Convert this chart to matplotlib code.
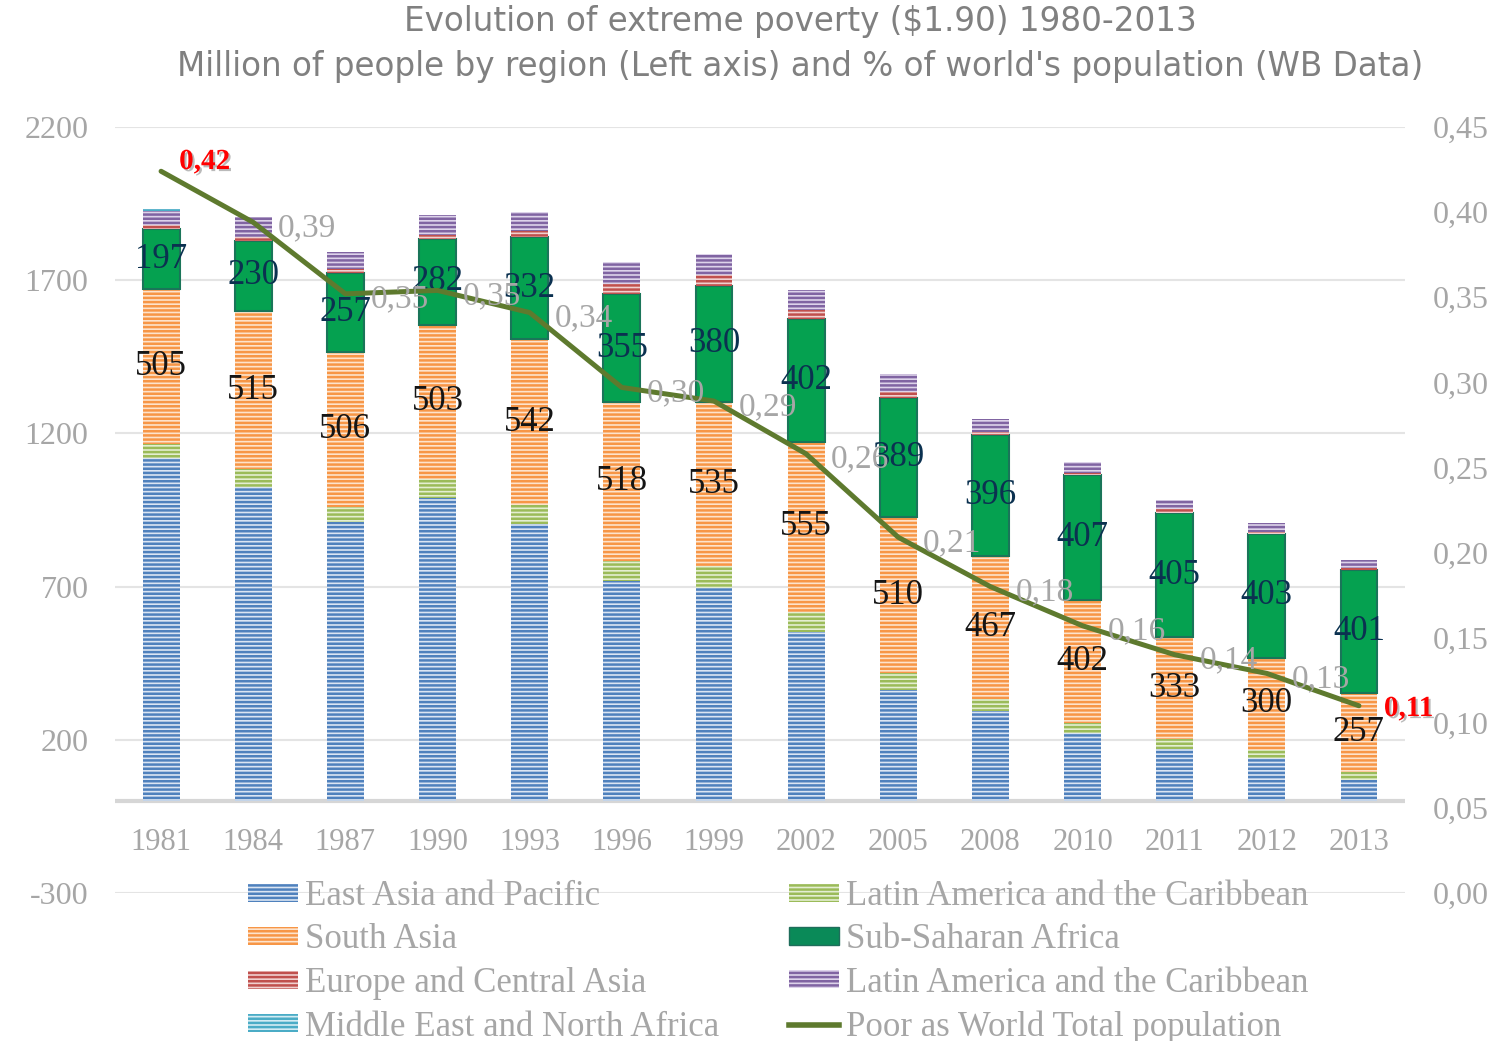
import numpy as np
import matplotlib.pyplot as plt
from matplotlib.patches import Patch
from matplotlib.lines import Line2D
import matplotlib.patheffects as pe

years = ['1981', '1984', '1987', '1990', '1993', '1996', '1999',
         '2002', '2005', '2008', '2010', '2011', '2012', '2013']

# million people
east_asia = [1119, 1024, 910, 990, 904, 718, 696, 553, 362, 294, 221, 170, 141, 68]
latin_america = [46, 60, 51, 61, 62, 65, 71, 65, 55, 38, 33, 32, 27, 28]
south_asia = [505, 515, 506, 503, 542, 518, 535, 555, 510, 467, 402, 333, 300, 257]
sub_saharan = [197, 230, 257, 282, 332, 355, 380, 402, 389, 396, 407, 405, 403, 401]
europe_ca = [13, 13, 14, 13, 22, 33, 35, 29, 20, 11, 9, 13, 8, 6]
other_purple = [46, 63, 53, 63, 62, 70, 70, 63, 57, 41, 35, 30, 28, 27]
mena = [7, 0, 0, 0, 0, 0, 0, 0, 0, 0, 0, 0, 0, 0]

# poor as share of world population
poor_share = [0.424, 0.394, 0.352, 0.354, 0.341, 0.297, 0.289,
              0.258, 0.209, 0.180, 0.157, 0.140, 0.129, 0.110]

left_ticks = [-300, 200, 700, 1200, 1700, 2200]
right_ticks = [0.00, 0.05, 0.10, 0.15, 0.20, 0.25, 0.30, 0.35, 0.40, 0.45]

serif = 'Liberation Serif'
gray = '#a6a6a6'
plt.rcParams['hatch.linewidth'] = 1.8

fig = plt.figure(figsize=(15.04, 10.41), dpi=100)
ax = fig.add_axes([115 / 1504, 1 - 893 / 1041, 1290 / 1504, 766 / 1041])

x = np.arange(len(years))
w = 0.4

# (values, stripe colour, light colour, hatch)
stack = [
    (east_asia, '#4f81bd', '#dbe5f3', '----'),
    (latin_america, '#9bbb59', '#e4eed2', '----'),
    (south_asia, '#f79646', '#fde3cc', '----'),
    (sub_saharan, None, None, None),
    (europe_ca, '#c0504d', '#f0d0cf', '----'),
    (other_purple, '#8064a2', '#ddd3ea', '----'),
    (mena, '#4bacc6', '#d3ecf3', '----'),
]

bottom = np.zeros(len(years))
for vals, col, light, hatch in stack:
    vals = np.array(vals, dtype=float)
    if col is None:
        ax.bar(x, vals, w, bottom=bottom, color='#05a150', edgecolor='#1a7559',
               linewidth=1.5, zorder=2)
    else:
        ax.bar(x, vals, w, bottom=bottom, color=light, edgecolor=col,
               hatch=hatch, linewidth=0, zorder=2)
    bottom += vals

# data labels
sa_mid = np.array(east_asia) + np.array(latin_america) + np.array(south_asia) / 2
ssa_mid = (np.array(east_asia) + np.array(latin_america) + np.array(south_asia)
           + np.array(sub_saharan) / 2)
for i in range(len(years)):
    ax.text(x[i], sa_mid[i], str(south_asia[i]), ha='center', va='center',
            fontsize=25, family=serif, color='#151515', zorder=5)
    ax.text(x[i], ssa_mid[i], str(sub_saharan[i]), ha='center', va='center',
            fontsize=25, family=serif, color='#0b3150', zorder=5)

ax.set_ylim(-300, 2200)
ax.set_xlim(-0.5, len(years) - 0.5)
ax.set_yticks(left_ticks)
ax.set_yticklabels([str(t) for t in left_ticks])
ax.yaxis.grid(True, color='#e4e4e4', lw=1.5)
ax.set_axisbelow(True)
ax.axhline(0, color='#d6d6d6', lw=3, zorder=1.5)
ax.set_xticks(x)
ax.set_xticklabels(years)
ax.tick_params(axis='x', length=0, pad=-47, labelsize=22, labelcolor=gray)
ax.tick_params(axis='y', length=0, pad=19, labelsize=23, labelcolor=gray)
for lab in ax.get_xticklabels() + ax.get_yticklabels():
    lab.set_family(serif)
for s in ax.spines.values():
    s.set_visible(False)

ax2 = ax.twinx()
ax2.set_ylim(0, 0.45)
ax2.set_yticks(right_ticks)
ax2.set_yticklabels([f'{t:.2f}'.replace('.', ',') for t in right_ticks])
ax2.tick_params(axis='y', length=0, pad=20, labelsize=23, labelcolor=gray)
for lab in ax2.get_yticklabels():
    lab.set_family(serif)
for s in ax2.spines.values():
    s.set_visible(False)

ax2.plot(x, poor_share, color='#5e7a2e', lw=3.6, solid_joinstyle='round',
         solid_capstyle='round', zorder=3)

shadow = [pe.withSimplePatchShadow(offset=(1.5, -1.5), shadow_rgbFace='#777777', alpha=0.5)]
last = len(poor_share) - 1
for i, v in enumerate(poor_share):
    txt = f'{v:.2f}'.replace('.', ',')
    if i == 0:
        ax2.annotate(txt, (x[i], v), xytext=(13, 7), textcoords='offset points',
                     ha='left', va='center', fontsize=21, fontweight='bold',
                     family=serif, color='#ff0000', path_effects=shadow, zorder=6)
    elif i == last:
        ax2.annotate(txt, (x[i], v), xytext=(18, -2), textcoords='offset points',
                     ha='left', va='center', fontsize=21, fontweight='bold',
                     family=serif, color='#ff0000', path_effects=shadow, zorder=6)
    else:
        ax2.annotate(txt, (x[i], v), xytext=(18, -4), textcoords='offset points',
                     ha='left', va='center', fontsize=24, family=serif,
                     color=gray, zorder=6)

# legend
handles = [
    Patch(facecolor='#dbe5f3', edgecolor='#4f81bd', hatch='----', linewidth=0),
    Patch(facecolor='#fde3cc', edgecolor='#f79646', hatch='----', linewidth=0),
    Patch(facecolor='#f0d0cf', edgecolor='#c0504d', hatch='----', linewidth=0),
    Patch(facecolor='#d3ecf3', edgecolor='#4bacc6', hatch='----', linewidth=0),
    Patch(facecolor='#e4eed2', edgecolor='#9bbb59', hatch='----', linewidth=0),
    Patch(facecolor='#0a8a58', edgecolor='#1f6d5b', linewidth=1),
    Patch(facecolor='#ddd3ea', edgecolor='#8064a2', hatch='----', linewidth=0),
    Line2D([], [], color='#5e7a2e', lw=4),
]
labels = ['East Asia and Pacific', 'South Asia', 'Europe and Central Asia',
          'Middle East and North Africa', 'Latin America and the Caribbean',
          'Sub-Saharan Africa', 'Latin America and the Caribbean',
          'Poor as World Total population']
fig.legend(handles, labels, ncol=2, loc='upper left',
           bbox_to_anchor=(248 / 1504, 1 - 880 / 1041), frameon=False,
           prop={'family': serif, 'size': 25}, labelcolor=gray,
           handlelength=1.45, handleheight=0.42, handletextpad=0.2,
           columnspacing=2.0, labelspacing=0.3, borderpad=0, borderaxespad=0)

fig.text(800 / 1504, 1 - 22 / 1041, 'Evolution of extreme poverty ($1.90) 1980-2013',
         ha='center', va='center', fontsize=23.5, color='#808080', family='DejaVu Sans')
fig.text(800 / 1504, 1 - 67 / 1041,
         "Million of people by region (Left axis) and % of world's population (WB Data)",
         ha='center', va='center', fontsize=23.5, color='#808080', family='DejaVu Sans')

fig.savefig('out.png', dpi=100)
